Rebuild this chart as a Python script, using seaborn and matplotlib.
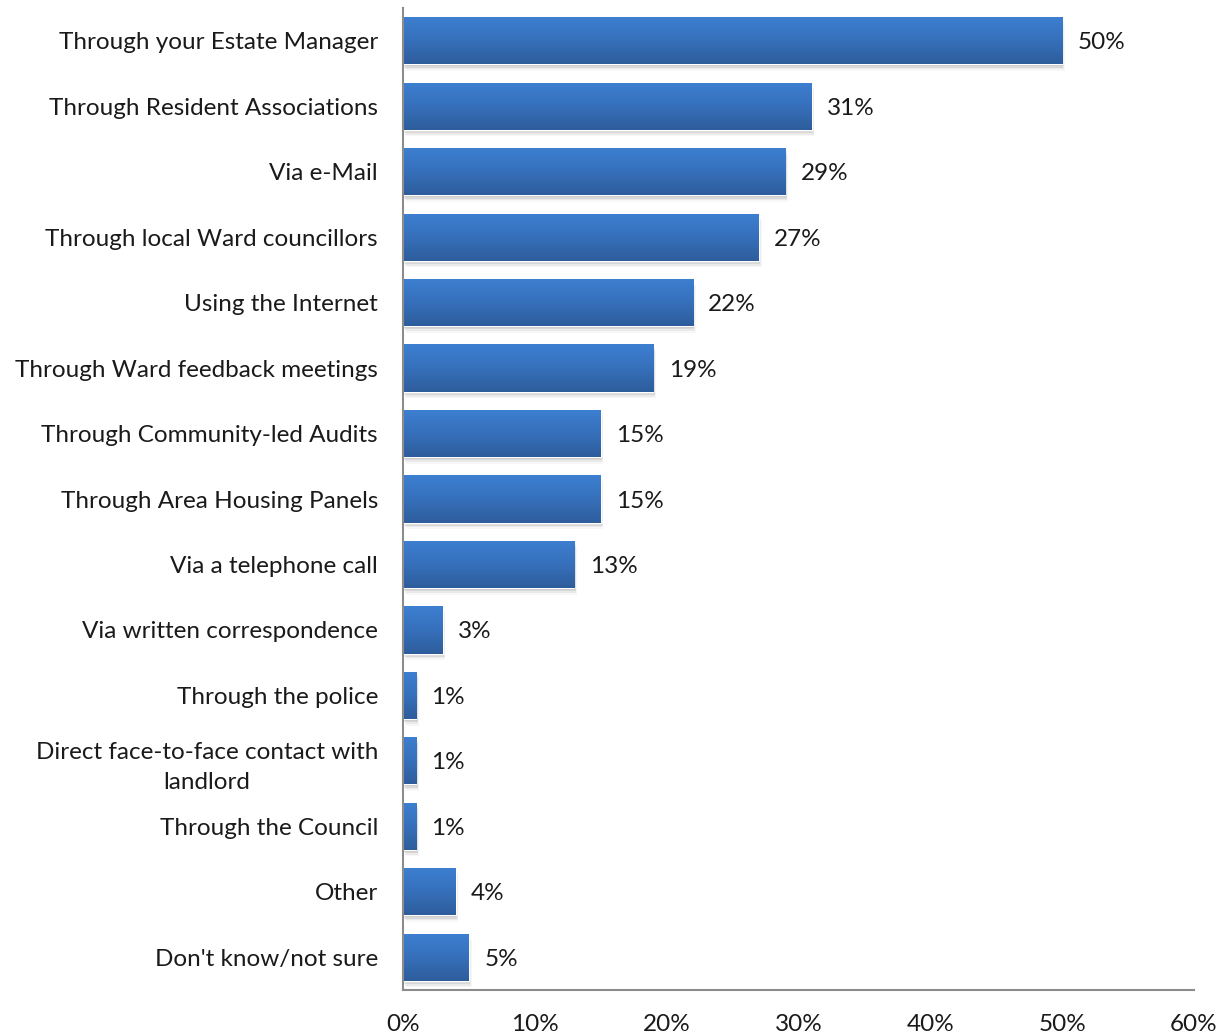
import numpy as np
import pandas as pd
import matplotlib
matplotlib.use("Agg")
import matplotlib.pyplot as plt
import seaborn as sns
from matplotlib.colors import LinearSegmentedColormap

categories = [
    "Through your Estate Manager",
    "Through Resident Associations",
    "Via e-Mail",
    "Through local Ward councillors",
    "Using the Internet",
    "Through Ward feedback meetings",
    "Through Community-led Audits",
    "Through Area Housing Panels",
    "Via a telephone call",
    "Via written correspondence",
    "Through the police",
    "Direct face-to-face contact with\nlandlord",
    "Through the Council",
    "Other",
    "Don't know/not sure",
]
values = [50, 31, 29, 27, 22, 19, 15, 15, 13, 3, 1, 1, 1, 4, 5]
x_ticks = [0, 10, 20, 30, 40, 50, 60]

sns.set_theme(style="white")
plt.rcParams["font.family"] = ["Lato", "DejaVu Sans"]

FS = 17.5
df = pd.DataFrame({"channel": categories, "pct": values})

fig = plt.figure(figsize=(12.32, 10.34), dpi=100)
ax = fig.add_axes([403 / 1232, 1 - 990 / 1034, (1194 - 403) / 1232, (990 - 8) / 1034])

sns.barplot(data=df, x="pct", y="channel", orient="h", color="#3a78c6",
            width=0.72, ax=ax, saturation=1)

ax.set_xlim(0, 60)
ax.set_ylim(len(categories) - 0.5, -0.5)

# gradient fill and soft drop shadow for each bar
grad = LinearSegmentedColormap.from_list("bar", ["#3d7fd1", "#3670bb", "#2e5d9c"])
gimg = np.linspace(0, 1, 64).reshape(-1, 1)
for p in list(ax.patches):
    x0, y0 = p.get_x(), p.get_y()
    w, h = p.get_width(), p.get_height()
    for k, a in enumerate([0.10, 0.07, 0.05, 0.03]):
        off = 0.025 * (k + 1)
        ax.add_patch(plt.Rectangle((x0 + 0.05 * (k + 1), y0 + off), w, h,
                                   facecolor="#000000", alpha=a, edgecolor="none",
                                   zorder=p.get_zorder() - 0.5))
    im = ax.imshow(gimg, extent=(x0, x0 + w, y0 + h, y0), cmap=grad,
                   aspect="auto", zorder=p.get_zorder() + 0.1, interpolation="bilinear")
    im.set_clip_path(p)
ax.set_xlim(0, 60)
ax.set_ylim(len(categories) - 0.5, -0.5)

for i, v in enumerate(values):
    ax.annotate(f"{v}%", xy=(v, i), xytext=(11, 0), textcoords="offset points",
                ha="left", va="center_baseline", fontsize=FS, color="#1a1a1a")

ax.set_xticks(x_ticks)
ax.set_xticklabels([f"{t}%" for t in x_ticks], fontsize=FS, color="#1a1a1a")
ax.tick_params(axis="x", length=0, pad=17)
ax.tick_params(axis="y", length=0, pad=18)
for lbl in ax.get_yticklabels():
    lbl.set_fontsize(FS)
    lbl.set_color("#1a1a1a")
    lbl.set_multialignment("center")
    lbl.set_linespacing(1.55)
ax.set_xlabel("")
ax.set_ylabel("")

for side in ["top", "right"]:
    ax.spines[side].set_visible(False)
for side in ["left", "bottom"]:
    ax.spines[side].set_color("#8c8c8c")
    ax.spines[side].set_linewidth(1.5)
ax.grid(False)

fig.savefig("out.png", dpi=100, facecolor="white")
